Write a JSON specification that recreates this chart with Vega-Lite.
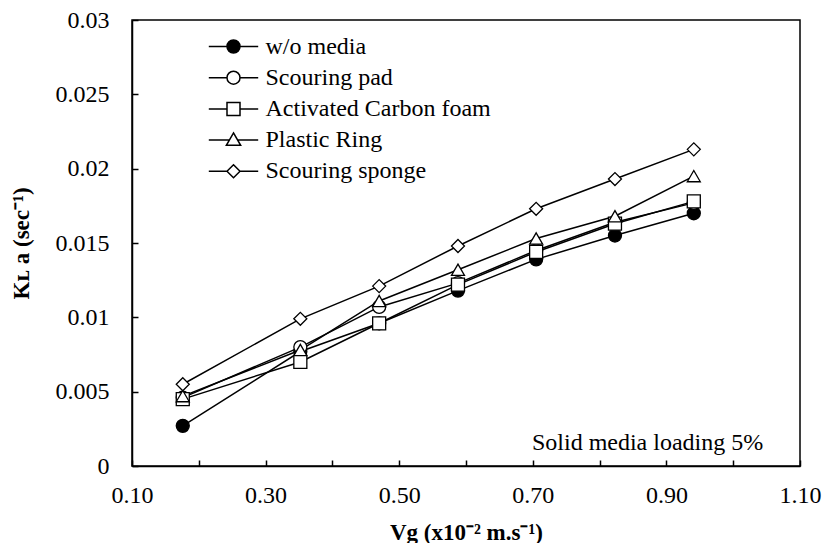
{
  "$schema": "https://vega.github.io/schema/vega-lite/v6.json",
  "width": 668,
  "height": 446,
  "autosize": {"type": "none"},
  "padding": {"left": 132, "top": 20, "right": 25, "bottom": 77},
  "background": "white",
  "config": {
    "font": "Liberation Serif",
    "view": {"stroke": "black", "strokeWidth": 1.5},
    "axis": {
      "grid": false,
      "domainColor": "black",
      "domainWidth": 1.5,
      "tickColor": "black",
      "tickWidth": 1.5,
      "tickSize": -6,
      "labelFlush": false,
      "labelFont": "Liberation Serif",
      "labelFontSize": 24,
      "labelColor": "black",
      "titleFont": "Liberation Serif",
      "titleFontSize": 23,
      "titleFontWeight": "bold",
      "titleColor": "black"
    },
    "legend": {
      "title": null,
      "orient": "none",
      "legendX": 89.5,
      "legendY": 14.5,
      "padding": 0,
      "symbolSize": 169,
      "symbolOpacity": 1,
      "symbolStrokeColor": "black",
      "symbolStrokeWidth": 1.5,
      "labelFont": "Liberation Serif",
      "labelFontSize": 24,
      "labelColor": "black",
      "labelOffset": 20,
      "labelLimit": 400,
      "rowPadding": 7.2
    }
  },
  "datasets": {
    "obs": [
      {"series": "w/o media", "vg": 0.176, "kla": 0.0027},
      {"series": "w/o media", "vg": 0.352, "kla": 0.0077},
      {"series": "w/o media", "vg": 0.470, "kla": 0.0096},
      {"series": "w/o media", "vg": 0.588, "kla": 0.0118},
      {"series": "w/o media", "vg": 0.705, "kla": 0.0139},
      {"series": "w/o media", "vg": 0.823, "kla": 0.0155},
      {"series": "w/o media", "vg": 0.941, "kla": 0.0170},
      {"series": "Scouring pad", "vg": 0.176, "kla": 0.0046},
      {"series": "Scouring pad", "vg": 0.352, "kla": 0.0080},
      {"series": "Scouring pad", "vg": 0.470, "kla": 0.0107},
      {"series": "Scouring pad", "vg": 0.588, "kla": 0.0123},
      {"series": "Scouring pad", "vg": 0.705, "kla": 0.0145},
      {"series": "Scouring pad", "vg": 0.823, "kla": 0.0164},
      {"series": "Scouring pad", "vg": 0.941, "kla": 0.0177},
      {"series": "Activated Carbon foam", "vg": 0.176, "kla": 0.0045},
      {"series": "Activated Carbon foam", "vg": 0.352, "kla": 0.0070},
      {"series": "Activated Carbon foam", "vg": 0.470, "kla": 0.0096},
      {"series": "Activated Carbon foam", "vg": 0.588, "kla": 0.0122},
      {"series": "Activated Carbon foam", "vg": 0.705, "kla": 0.0144},
      {"series": "Activated Carbon foam", "vg": 0.823, "kla": 0.0163},
      {"series": "Activated Carbon foam", "vg": 0.941, "kla": 0.0178},
      {"series": "Plastic Ring", "vg": 0.176, "kla": 0.0047},
      {"series": "Plastic Ring", "vg": 0.352, "kla": 0.0078},
      {"series": "Plastic Ring", "vg": 0.470, "kla": 0.0111},
      {"series": "Plastic Ring", "vg": 0.588, "kla": 0.0132},
      {"series": "Plastic Ring", "vg": 0.705, "kla": 0.0153},
      {"series": "Plastic Ring", "vg": 0.823, "kla": 0.0168},
      {"series": "Plastic Ring", "vg": 0.941, "kla": 0.0195},
      {"series": "Scouring sponge", "vg": 0.176, "kla": 0.0055},
      {"series": "Scouring sponge", "vg": 0.352, "kla": 0.0099},
      {"series": "Scouring sponge", "vg": 0.470, "kla": 0.0121},
      {"series": "Scouring sponge", "vg": 0.588, "kla": 0.0148},
      {"series": "Scouring sponge", "vg": 0.705, "kla": 0.0173},
      {"series": "Scouring sponge", "vg": 0.823, "kla": 0.0193},
      {"series": "Scouring sponge", "vg": 0.941, "kla": 0.0213}
    ],
    "note": [
      {"label": "Solid media loading 5%", "vg": 1.045, "kla": 0.00108}
    ]
  },
  "layer": [
    {
      "data": {"name": "obs"},
      "mark": {"type": "line", "color": "black", "strokeWidth": 1.5},
      "encoding": {
        "x": {
          "field": "vg", "type": "quantitative",
          "scale": {"domain": [0.1, 1.1], "nice": false, "zero": false},
          "axis": {
            "title": "Vg (x10⁻² m.s⁻¹)",
            "values": [0.1, 0.2, 0.3, 0.4, 0.5, 0.6, 0.7, 0.8, 0.9, 1.0, 1.1],
            "labelExpr": "round(datum.value * 10) % 2 == 1 ? format(datum.value, '.2f') : ''",
            "labelPadding": 23.5,
            "titleX": 334,
            "titleY": 66,
            "titleAlign": "center",
            "titleBaseline": "middle"
          }
        },
        "y": {
          "field": "kla", "type": "quantitative",
          "scale": {"domain": [0, 0.03], "nice": false},
          "axis": {
            "title": "Kʟ a (sec⁻¹)",
            "values": [0, 0.005, 0.01, 0.015, 0.02, 0.025, 0.03],
            "format": "~g",
            "labelPadding": 29,
            "titleX": -111,
            "titleY": 223,
            "titleAngle": -90,
            "titleAlign": "center",
            "titleBaseline": "middle"
          }
        },
        "detail": {"field": "series"}
      }
    },
    {
      "data": {"name": "obs"},
      "mark": {"type": "point", "filled": true, "stroke": "black", "strokeWidth": 1.3, "size": 169, "opacity": 1},
      "encoding": {
        "x": {"field": "vg", "type": "quantitative"},
        "y": {"field": "kla", "type": "quantitative"},
        "shape": {
          "field": "series", "type": "nominal",
          "scale": {
            "domain": ["w/o media", "Scouring pad", "Activated Carbon foam", "Plastic Ring", "Scouring sponge"],
            "range": ["circle", "circle", "square", "triangle-up", "diamond"]
          },
          "legend": null
        },
        "fill": {
          "field": "series", "type": "nominal",
          "scale": {
            "domain": ["w/o media", "Scouring pad", "Activated Carbon foam", "Plastic Ring", "Scouring sponge"],
            "range": ["black", "white", "white", "white", "white"]
          },
          "legend": null
        }
      }
    },
    {
      "data": {"name": "obs"},
      "mark": {"type": "point", "filled": true, "strokeWidth": 1.3, "size": 169, "opacity": 0},
      "encoding": {
        "x": {"field": "vg", "type": "quantitative"},
        "y": {"field": "kla", "type": "quantitative"},
        "shape": {
          "field": "series", "type": "nominal",
          "scale": {
            "domain": ["w/o media", "Scouring pad", "Activated Carbon foam", "Plastic Ring", "Scouring sponge"],
            "range": [
              "M-3.8,0H-1M1,0H3.8M-1,0A1,1,0,1,0,1,0A1,1,0,1,0,-1,0Z",
              "M-3.8,0H-1M1,0H3.8M-1,0A1,1,0,1,0,1,0A1,1,0,1,0,-1,0Z",
              "M-3.8,0H-1M1,0H3.8M-1,-1H1V1H-1Z",
              "M-3.8,0H-0.64M0.64,0H3.8M0,-1.1L1.1,0.8H-1.1Z",
              "M-3.8,0H-1M1,0H3.8M0,-1L1,0L0,1L-1,0Z"
            ]
          }
        },
        "fill": {
          "field": "series", "type": "nominal",
          "scale": {
            "domain": ["w/o media", "Scouring pad", "Activated Carbon foam", "Plastic Ring", "Scouring sponge"],
            "range": ["black", "white", "white", "white", "white"]
          }
        },
        "stroke": {
          "field": "series", "type": "nominal",
          "scale": {
            "domain": ["w/o media", "Scouring pad", "Activated Carbon foam", "Plastic Ring", "Scouring sponge"],
            "range": ["black", "black", "black", "black", "black"]
          }
        }
      }
    },
    {
      "data": {"name": "note"},
      "mark": {"type": "text", "align": "right", "baseline": "alphabetic", "fontSize": 24, "font": "Liberation Serif", "color": "black"},
      "encoding": {
        "x": {"field": "vg", "type": "quantitative"},
        "y": {"field": "kla", "type": "quantitative"},
        "text": {"field": "label"}
      }
    }
  ],
  "resolve": {"scale": {"shape": "independent", "fill": "independent", "stroke": "independent"}}
}
